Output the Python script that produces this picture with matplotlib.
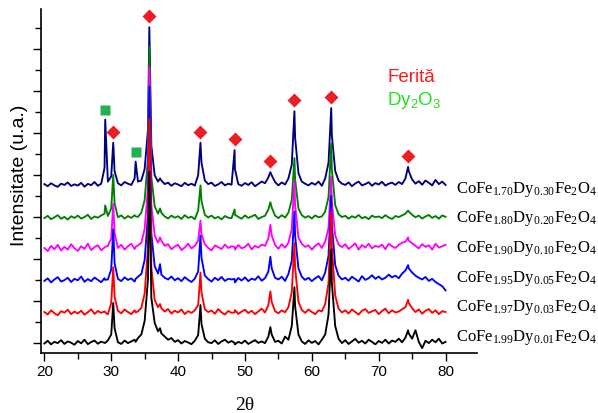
"""XRD patterns of CoFe(2-x)DyxFe2O4 ferrites, stacked."""

import matplotlib
matplotlib.use('Agg')
import matplotlib.pyplot as plt
from matplotlib.ticker import MultipleLocator
import numpy as np

# 2-theta grid (0.5 deg steps) for the background readings
two_theta = np.linspace(20, 80, 121)

# peak apex positions (deg): Dy2O3 at 29.1 / 33.65, ferrite elsewhere
peak_pos = [29.1, 30.3, 33.65, 35.7, 37.3, 43.35, 48.45, 53.8, 57.4, 62.9, 74.4]
ferrite_idx = [1, 3, 5, 6, 7, 8, 9, 10]
dy_idx = [0, 2]

samples = ['0.01', '0.03', '0.05', '0.10', '0.20', '0.30']
fe_content = ['1.99', '1.97', '1.95', '1.90', '1.80', '1.70']
trace_colors = ['#000000', '#ff0000', '#0000ff', '#ff00ff', '#008000', '#000080']
offsets = [-15, 125, 280, 432, 580, 738]

# intensity (counts) at the 0.5 deg grid, one row per 5 deg
grid_001 = [12, 25, 8, 20, 14, 28, 10, 22, 16, 6,
            24, 13, 30, 9, 19, 26, 11, 21, 15, 27,
            55, 85, 18, 10, 26, 14, 22, 30, 38, 55,
            120, 320, 230, 110, 70, 60, 45, 30, 38, 20,
            28, 12, 24, 17, 9, 25, 52, 105, 35, 18,
            14, 27, 10, 22, 30, 16, 24, 8, 20, 13,
            26, 10, 19, 28, 15, 22, 14, 45, 55, 20,
            25, 12, 45, 30, 95, 190, 55, 22, 10, 27,
            15, 24, 8, 30, 55, 150, 300, 95, 35, 14,
            28, 10, 22, 34, 16, 25, 12, 30, 20, 8,
            24, 15, 30, 12, 26, 20, 35, 18, 40, 60,
            35, 75, 20, -10, 25, 14, 30, 18, 35, 12,
            20]
grid_003 = [22, 10, 30, 16, 7, 26, 19, 33, 12, 24,
            15, 28, 9, 21, 35, 13, 27, 18, 25, 11,
            65, 95, 28, 16, 34, 22, 12, 30, 25, 42,
            110, 330, 235, 80, 45, 40, 24, 36, 15, 28,
            20, 34, 12, 26, 18, 30, 55, 115, 35, 22,
            29, 14, 36, 20, 10, 27, 18, 31, 13, 24,
            33, 17, 28, 12, 25, 38, 20, 55, 70, 26,
            16, 30, 21, 45, 115, 235, 70, 32, 18, 34,
            22, 12, 30, 25, 60, 160, 330, 100, 38, 20,
            30, 15, 34, 22, 10, 28, 36, 18, 25, 32,
            12, 27, 38, 16, 30, 20, 24, 35, 45, 65,
            40, 22, 34, 14, 28, 36, 18, 30, 12, 26,
            22]
grid_005 = [15, 27, 8, 22, 33, 12, 19, 30, 10, 25,
            18, 36, 11, 24, 14, 31, 20, 9, 28, 22,
            70, 100, 25, 14, 32, 20, 27, 12, 35, 48,
            115, 330, 240, 85, 50, 45, 30, 22, 36, 18,
            28, 14, 33, 20, 10, 26, 60, 125, 40, 24,
            12, 30, 19, 34, 15, 25, 22, 8, 29, 17,
            32, 14, 26, 20, 37, 16, 28, 60, 75, 30,
            22, 35, 15, 48, 110, 230, 75, 35, 20, 30,
            14, 27, 38, 18, 55, 135, 280, 90, 40, 22,
            30, 16, 35, 24, 12, 38, 20, 28, 42, 25,
            36, 22, 30, 45, 32, 40, 28, 50, 65, 75,
            55, 40, 30, 22, 34, 15, 25, 10, 0, -10,
            -30]
grid_010 = [20, 5, 30, 14, 35, 8, 25, 12, 38, 18,
            6, 28, 16, 40, 10, 24, 33, 9, 22, 30,
            65, 90, 20, 35, 12, 28, 40, 15, 32, 45,
            110, 310, 225, 80, 45, 55, 30, 38, 14, 27,
            35, 10, 22, 40, 18, 30, 55, 85, 38, 20,
            9, 32, 24, 15, 36, 20, 28, 12, 34, 18,
            25, 40, 13, 30, 22, 36, 30, 65, 80, 35,
            16, 38, 22, 45, 110, 225, 70, 40, 25, 33,
            12, 30, 42, 20, 50, 115, 235, 80, 36, 24,
            38, 15, 28, 42, 12, 34, 22, 40, 18, 30,
            25, 36, 14, 40, 28, 20, 35, 45, 50, 55,
            42, 30, 18, 38, 25, 33, 12, 40, 22, 28,
            35]
grid_020 = [14, 25, 9, 18, 28, 11, 20, 7, 23, 15,
            26, 12, 19, 30, 10, 22, 16, 27, 35, 24,
            60, 85, 18, 27, 12, 24, 15, 28, 20, 40,
            100, 300, 210, 70, 35, 40, 22, 12, 26, 16,
            23, 10, 28, 15, 21, 9, 50, 95, 30, 17,
            26, 13, 20, 8, 24, 16, 14, 30, 20, 11,
            27, 15, 22, 30, 10, 19, 25, 55, 65, 26,
            14, 28, 17, 40, 100, 200, 60, 28, 16, 24,
            12, 27, 18, 22, 45, 115, 245, 75, 33, 19,
            25, 11, 23, 16, 29, 13, 20, 9, 26, 18,
            22, 14, 28, 17, 10, 24, 19, 27, 35, 45,
            30, 18, 26, 12, 22, 29, 15, 24, 11, 27,
            20]
grid_030 = [18, 8, 22, 12, 5, 20, 14, 26, 9, 17,
            11, 24, 6, 19, 13, 28, 10, 20, 95, 30,
            55, 80, 22, 12, 28, 20, 14, 45, 30, 35,
            90, 280, 200, 60, 30, 35, 18, 25, 10, 22,
            16, 8, 24, 13, 20, 11, 60, 120, 35, 18,
            25, 9, 17, 28, 12, 20, 15, 90, 18, 10,
            23, 14, 27, 8, 19, 30, 22, 50, 60, 28,
            12, 26, 16, 45, 110, 240, 70, 30, 20, 12,
            24, 15, 30, 10, 45, 120, 250, 80, 35, 20,
            14, 26, 8, 21, 30, 12, 18, 27, 10, 23,
            16, 29, 11, 20, 25, 14, 28, 18, 45, 80,
            40, 20, 32, 15, 35, 24, 12, 38, 18, 30,
            14]

# apex intensity of each trace at peak_pos
apex_001 = [15, 205, 20, 830, 85, 195, 15, 90, 280, 460, 75]
apex_003 = [20, 235, 20, 940, 60, 210, 20, 120, 350, 500, 80]
apex_005 = [20, 260, 25, 940, 95, 230, 25, 130, 345, 420, 90]
apex_010 = [25, 230, 25, 880, 70, 150, 25, 130, 340, 360, 70]
apex_020 = [75, 220, 22, 830, 60, 170, 55, 90, 300, 370, 50]
apex_030 = [325, 215, 125, 765, 45, 215, 180, 75, 365, 380, 100]

grids = [grid_001, grid_003, grid_005, grid_010, grid_020, grid_030]
apexes = [apex_001, apex_003, apex_005, apex_010, apex_020, apex_030]


def build_trace(grid_vals, apex_vals):
    x = np.concatenate([two_theta, peak_pos])
    y = np.concatenate([grid_vals, apex_vals]).astype(float)
    order = np.argsort(x)
    return x[order], y[order]


def generate_xrd():
    plt.rcParams['font.family'] = 'Liberation Sans'
    plt.rcParams['mathtext.default'] = 'regular'

    fig = plt.figure(figsize=(5.98, 4.14), dpi=100)
    ax = fig.add_axes([0.0686, 0.145, 0.729, 0.831])

    # top trace drawn first, the lower ones over it
    for i in reversed(range(len(samples))):
        x, y = build_trace(grids[i], apexes[i])
        ax.plot(x, y + offsets[i], color=trace_colors[i], lw=1.35)

    # phase markers above the Dy 0.30 peaks
    top = len(samples) - 1
    fx = [peak_pos[k] for k in ferrite_idx]
    fy = [apexes[top][k] + offsets[top] + 52 for k in ferrite_idx]
    ax.plot(fx, fy, 'D', color='#ee1c25', ms=7, mec='none')
    dx = [peak_pos[k] for k in dy_idx]
    dy = [apexes[top][k] + offsets[top] + 48 for k in dy_idx]
    ax.plot(dx, dy, 's', color='#22b14c', ms=6.5, mec='none')

    ax.text(0.794, 0.791, 'Ferită', transform=ax.transAxes, color='#ff1a1a',
            fontsize=13.5, va='baseline')
    ax.text(0.794, 0.724, 'Dy$_2$O$_3$', transform=ax.transAxes, color='#22dd22',
            fontsize=13.5, va='baseline')

    # sample names on the right
    for i in range(len(samples)):
        name = r'CoFe$_{%s}$Dy$_{%s}$Fe$_2$O$_4$' % (fe_content[i], samples[i])
        ax.text(81.5, 14 + 141 * i, name, family='Liberation Serif',
                fontsize=12, va='baseline', ha='left', clip_on=False)

    ax.set_xlim(19.5, 84.7)
    ax.set_ylim(-48, 1590)
    ax.xaxis.set_major_locator(MultipleLocator(10))
    ax.xaxis.set_minor_locator(MultipleLocator(5))
    ax.yaxis.set_major_locator(MultipleLocator(200))
    ax.yaxis.set_minor_locator(MultipleLocator(100))
    ax.tick_params(axis='both', which='major', direction='out', length=6,
                   width=1.0, labelsize=11, pad=2)
    ax.tick_params(axis='both', which='minor', direction='out', length=4, width=1.0)
    ax.tick_params(axis='y', which='both', labelleft=False)

    ax.spines['top'].set_visible(False)
    ax.spines['right'].set_visible(False)
    for side in ['left', 'bottom']:
        ax.spines[side].set_linewidth(1.2)

    ax.set_xlabel('2θ', family='Liberation Serif', fontsize=14)
    ax.xaxis.set_label_coords(0.468, -0.125)
    ax.set_ylabel('Intensitate (u.a.)', fontsize=14)
    ax.yaxis.set_label_coords(-0.03, 0.52)

    fig.savefig('out.png', dpi=100, facecolor='white')
    plt.close(fig)


if __name__ == '__main__':
    generate_xrd()
